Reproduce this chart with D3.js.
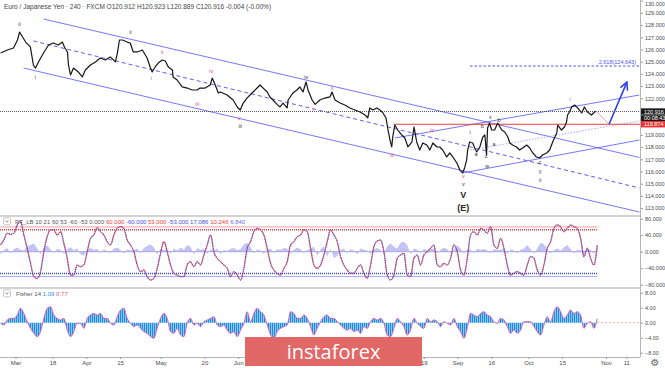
<!DOCTYPE html>
<html>
<head>
<meta charset="utf-8">
<script src="https://cdn.jsdelivr.net/npm/d3@7"></script>
<style>
body{margin:0;background:#fff}
svg{display:block;font-family:"Liberation Sans",Arial,sans-serif}
</style>
</head>
<body>
<div id="chart"></div>
<script>
// ---- data (time = trading days since 1 Mar 2019) ----
const priceT = [-4.4,-2.4,-0.6,0.6,1.2,2.1,3.0,4.4,5.3,5.9,6.8,8.3,9.8,11.2,12.7,13.9,14.5,15.4,15.7,16.3,17.2,18.6,19.8,20.7,22.2,23.7,25.1,26.6,28.1,29.6,30.2,30.8,31.7,33.1,34.0,34.9,36.1,37.6,39.0,39.9,40.5,41.4,42.3,43.5,44.4,45.3,46.5,46.7,47.9,49.4,50.9,52.4,53.8,54.7,56.2,57.7,58.3,59.2,60.1,60.7,62.7,64.5,65.7,66.6,67.5,68.6,69.5,70.4,71.6,72.5,73.4,74.6,75.4,76.3,77.5,78.4,79.3,80.5,80.8,81.4,82.2,83.4,84.3,85.2,86.1,86.7,87.9,88.8,90.2,91.7,93.2,93.8,94.7,96.2,97.6,99.1,100.6,102.1,103.6,104.4,105.0,105.9,107.1,108.0,108.9,109.8,110.4,111.0,111.5,111.8,112.4,113.3,114.5,115.4,116.3,117.5,118.1,118.9,119.8,120.7,121.9,122.8,123.7,124.9,125.7,126.6,127.8,128.7,129.6,130.8,131.7,132.5,133.1,133.7,134.0,134.6,135.5,136.1,136.7,137.6,138.5,139.1,139.6,139.9,140.5,141.1,142.0,142.9,144.1,145.0,145.9,146.5,147.3,148.5,149.4,150.3,151.5,152.4,153.3,154.4,155.3,156.2,157.4,158.3,159.2,160.4,160.7,161.8,162.7,163.3,163.6,164.2,164.8,165.7,166.6,167.8,168.6,169.5,170.7,171.6,172.2];
const priceV = [125.71,125.96,126.12,126.78,127.43,127.02,126.61,126.21,124.73,124.48,124.98,125.71,126.37,126.53,126.37,126.61,126.21,125.80,124.73,123.91,124.48,124.16,123.75,124.32,124.73,124.98,125.30,125.14,125.39,124.98,125.71,126.78,126.78,126.61,126.53,125.80,125.80,125.96,125.30,124.57,124.16,124.57,124.89,125.14,125.06,124.57,124.32,123.75,123.50,122.93,122.84,122.68,122.68,122.84,122.84,123.09,123.66,123.09,122.43,122.52,122.27,121.86,121.29,121.04,121.61,122.02,122.27,122.52,122.84,123.09,122.84,122.52,122.11,121.86,121.50,121.29,121.61,121.21,121.86,122.11,122.43,122.68,122.93,122.52,123.34,122.68,121.86,121.50,121.86,122.02,122.11,122.52,121.86,121.61,121.45,121.21,121.04,120.88,120.63,120.39,121.21,121.04,121.21,121.04,120.80,120.39,119.40,118.58,118.01,118.83,119.81,119.40,118.99,118.75,118.01,118.42,119.65,118.42,117.76,118.34,118.17,117.76,118.34,118.01,118.01,117.76,117.19,117.52,117.19,116.70,116.12,115.88,116.29,116.94,117.76,118.42,118.34,117.93,117.60,118.01,118.83,118.99,117.35,119.57,119.97,119.40,119.40,119.97,119.40,119.24,118.83,118.34,118.17,118.01,117.76,117.93,118.17,117.93,117.52,117.19,117.11,117.35,117.52,117.76,118.42,119.16,119.81,119.40,119.65,120.06,120.63,120.88,121.29,121.45,121.21,120.80,121.29,120.88,120.63,120.88,120.92];

// indicator samples, one every ~0.99 trading day starting at t = -4.44
const sampleT0 = -4.44, sampleStep = 0.988;
const oscV = [16.2,28.4,44.5,42.1,44.5,64.7,72.8,40.5,8.2,-28.2,
  -60.5,-64.6,-48.4,0,36.4,52.6,52.6,40.5,48.6,20.3,
  -16.1,-56.5,-56.5,-32.2,-36.3,-32.2,0,32.4,40.5,58.3,
  48.6,40.5,24.3,16.2,40.5,56.6,60.7,56.6,28.4,16.2,
  0,-32.2,-48.4,-44.4,-60.5,-68.6,-64.6,-40.3,-4.0,24.3,
  0,-32.2,-52.4,-56.5,-60.5,-60.5,-32.2,-24.2,-36.3,-24.2,
  -32.2,-8.0,16.2,40.5,0,-16.1,-24.2,-32.2,-40.3,-60.5,
  -48.4,-56.5,-68.6,-40.3,8.2,24.3,48.6,56.6,52.6,40.5,
  8.2,-28.2,-44.4,-52.4,-56.5,-40.3,-24.2,16.2,24.3,36.4,
  40.5,52.6,48.6,8.2,-32.2,-40.3,-32.2,-8.0,24.3,52.6,
  40.5,24.3,-12.0,-32.2,-44.4,-52.4,-52.4,-40.3,-32.2,-52.4,
  -64.6,-32.2,12.2,25.9,28.4,0,-56.5,-68.6,-56.5,-16.1,
  -8.0,-4.0,-56.5,-60.5,-16.1,-8.0,-32.2,-8.0,0,8.2,
  16.2,-32.2,-36.3,-28.2,-32.2,-16.1,16.2,0,-44.4,-56.5,
  -16.1,40.5,48.6,40.5,56.6,52.6,44.5,60.7,16.2,8.2,
  32.4,8.2,-32.2,-56.5,-52.4,-48.4,-52.4,-56.5,-32.2,-12.0,
  -16.1,-44.4,-56.5,-32.2,8.2,24.3,56.6,64.7,60.7,48.6,
  56.6,64.7,60.7,56.6,32.4,-12.0,8.2,-16.1,-32.2,16.2];
const histV = [-8,4,9,-4,6,10,5,3,12,16,
  20,8,-6,10,15,6,-3,7,4,-5,
  6,11,3,8,-6,-10,5,9,4,7,
  -3,6,2,-4,8,10,4,-5,6,3,
  5,8,-4,9,14,18,10,-6,7,4,
  6,-5,8,3,10,5,16,12,-7,9,
  4,7,-5,6,3,8,-6,5,2,7,
  9,4,6,18,22,10,-4,6,3,-5,
  5,8,-3,6,4,9,7,-4,5,10,
  6,-3,4,8,12,-10,6,14,-12,8,
  -16,-10,5,8,-4,6,3,-6,8,5,
  3,-5,6,9,4,-4,14,20,12,8,
  22,24,16,-6,8,5,-3,7,4,6,
  8,-4,5,10,6,-3,4,16,8,-5,
  6,5,-3,8,4,7,3,-4,6,5,
  4,8,-5,6,3,-4,5,7,16,6,
  -4,8,22,18,6,-5,4,8,3,10,
  16,6,-4,5,3,-6,8,4,-5,6];
const fisherV = [-0.17,-0.62,0.72,1.16,1.16,2.05,3.83,2.49,0.27,-1.51,
  -2.84,-3.73,-2.39,1.16,3.83,4.27,2.05,1.16,0.72,1.16,
  -1.95,-3.73,-2.39,-0.17,-0.17,-1.51,1.16,2.05,2.49,2.05,
  2.49,1.16,1.16,-0.17,-0.62,1.61,3.38,3.83,1.16,-0.17,
  -1.06,-0.62,-1.51,-2.39,-2.84,-3.73,-4.17,-1.51,1.16,2.49,
  1.16,-2.39,-2.84,-1.51,-3.28,-3.73,-0.17,1.16,-0.62,-0.17,
  -1.06,0.27,0.72,1.16,1.61,-0.62,-1.06,-0.62,-1.95,-2.84,
  -2.39,-3.73,-1.95,-0.17,2.94,0.27,2.49,3.83,2.94,2.05,
  -0.62,-3.28,-4.17,-2.39,-1.51,-1.06,-0.62,2.94,2.49,1.16,
  1.16,2.05,1.16,-1.06,-3.28,-1.51,0.27,1.61,2.05,1.16,
  1.16,0.27,-0.62,-1.51,-1.95,-1.51,-2.39,-1.95,-2.84,-1.06,
  -1.51,0.27,1.16,0.72,1.16,-0.17,-3.28,-3.73,-1.51,1.16,
  0.27,-1.06,-3.28,-1.95,1.16,-0.17,-1.06,-1.51,1.16,0.27,
  0.72,0.27,-1.06,0.27,-0.17,-0.62,1.16,-1.06,-2.39,-4.17,
  -1.51,2.49,2.05,1.61,2.49,2.94,2.05,1.61,0.27,-0.17,
  1.16,0.72,-1.06,-2.84,-1.95,-2.84,-1.95,0.27,0.27,0.27,
  -1.06,-2.39,-3.28,-0.62,1.61,0.27,2.94,4.27,2.94,1.16,
  2.05,3.38,2.49,2.94,2.05,-1.51,-0.17,0.27,-1.51,1.09];

const oscLevels = [60, 53, -53, -60];

// drawings on the price pane, [trading day, price]
const upperChannel = [[8.3, 128.50], [184.9, 117.15]];
const lowerChannel = [[2.4, 124.48], [184.9, 112.68]];
const midChannel = [[5.3, 126.70], [184.9, 114.65]];
const riseLow = [[132.5, 115.88], [184.9, 118.58]];
const riseHigh = [[112.5, 118.75], [184.9, 122.27]];
const riseDotted = [[134.7, 117.76], [184.9, 120.14]];
const projDown = [[172.2, 120.92], [175.9, 119.87]];
const projUp = [[175.9, 119.87], [181.2, 123.33]];
const redLevel = 119.874, redLevelStart = 112.2;
const fibLevel = 124.643, fibStart = 134.7;
const lastClose = 120.916;

const darkLabels = [[1.2,128.01,"ii"],[5.9,123.74,"i"],[34.1,127.35,"ii"],[66.6,119.65,"iii"],[86.2,123.74,"iv"],
  [132.7,114.89,"v"],[134.7,119.16,"i"],[136.5,117.43,"a"],[138.3,119.65,"b"],[139.5,117.19,"c"],
  [140.7,120.39,"x"],[141.8,118.25,"a"],[143.3,120.14,"b"],[139.8,116.37,"w"],
  [155.5,116.70,"c"],[155.5,115.96,"y"],[155.5,115.22,"ii"]];
const pinkLabels = [[40.3,123.58,"i"],[43.5,125.71,"ii"],[53.9,121.45,"iii"],[58.0,124.16,"iv"],[66.3,120.30,"v"],
  [88.2,121.04,"i"],[93.9,122.76,"ii"],[111.6,117.27,"iii"],[123.5,119.32,"iv"],[132.7,115.55,"v"]];
const redLabels = [[164.4,121.86,"i"]];
const bigLabels = [[132.7,113.99,"V"],[132.7,112.93,"(E)"]];

const tickDays = [0, 11, 21, 31, 43, 56, 66, 121, 131, 141, 152, 162, 175, 181];
const tickNames = ["Mar","18","Apr","15","May","20","Jun","19","Sep","16","Oct","15","Nov","11"];

// ---- layout ----
const W = 665, H = 368, AX = 640;
const text_color = "#4a4a4a";
const line_blue = "#5f5ff2";

const x = d3.scaleLinear().domain([0, 175]).range([15.5, 606]);
const yP = d3.scaleLinear().domain([113, 130]).range([208.1, 0.7]);
const yO = d3.scaleLinear().domain([-80, 80]).range([284.7, 218.7]);
const yF = d3.scaleLinear().domain([-8, 8]).range([352.7, 292.7]);

const sampleT = i => sampleT0 + i * sampleStep;

const svg = d3.select("#chart").append("svg")
    .attr("width", W).attr("height", H);

const defs = svg.append("defs");
defs.append("clipPath").attr("id", "cMain").append("rect").attr("x", 0).attr("y", 0).attr("width", AX).attr("height", 216);
defs.append("clipPath").attr("id", "cOsc").append("rect").attr("x", 0).attr("y", 217).attr("width", AX).attr("height", 71);
defs.append("clipPath").attr("id", "cFis").append("rect").attr("x", 0).attr("y", 289).attr("width", AX).attr("height", 68);
const pat = defs.append("pattern").attr("id", "stripes").attr("patternUnits", "userSpaceOnUse")
    .attr("width", 2).attr("height", 6);
pat.append("rect").attr("width", 2).attr("height", 6).attr("fill", "#8ec8f6");
pat.append("rect").attr("width", 1).attr("height", 6).attr("fill", "#1f8ae6");
defs.append("marker").attr("id", "arrow").attr("viewBox", "0 0 10 10").attr("refX", 9).attr("refY", 5)
    .attr("markerWidth", 6).attr("markerHeight", 6).attr("orient", "auto")
    .append("path").attr("d", "M1,1 L9,5 L1,9").attr("fill", "none").attr("stroke", "#2d3df0").attr("stroke-width", 1.6);

svg.append("rect").attr("width", W).attr("height", H).attr("fill", "#fff");

// ---- price pane ----
const main = svg.append("g").attr("clip-path", "url(#cMain)");
const seg = d3.line().x(d => x(d[0])).y(d => yP(d[1]));

[upperChannel, lowerChannel, riseLow, riseHigh].forEach(l => {
    main.append("path").attr("d", seg(l)).attr("fill", "none")
        .attr("stroke", line_blue).attr("stroke-width", 1).attr("opacity", 0.85);
});
main.append("path").attr("d", seg(midChannel)).attr("fill", "none")
    .attr("stroke", line_blue).attr("stroke-width", 1).attr("stroke-dasharray", "4,3");
main.append("path").attr("d", seg(riseDotted)).attr("fill", "none")
    .attr("stroke", "#a9a9f2").attr("stroke-width", 1).attr("stroke-dasharray", "1.5,1.5");

main.append("line").attr("x1", 0).attr("x2", AX).attr("y1", yP(lastClose)).attr("y2", yP(lastClose))
    .attr("stroke", "#555").attr("stroke-width", 1).attr("stroke-dasharray", "1,1");
main.append("line").attr("x1", x(redLevelStart)).attr("x2", AX).attr("y1", yP(redLevel)).attr("y2", yP(redLevel))
    .attr("stroke", "#f03c3c").attr("stroke-width", 1.2);
main.append("line").attr("x1", x(fibStart)).attr("x2", AX).attr("y1", yP(fibLevel)).attr("y2", yP(fibLevel))
    .attr("stroke", "#4a55f0").attr("stroke-width", 1).attr("stroke-dasharray", "2.5,2");
main.append("text").attr("x", 636).attr("y", yP(fibLevel) - 2).attr("text-anchor", "end")
    .attr("font-size", "5.5px").attr("fill", "#4a55f0").text("2.618(" + fibLevel.toFixed(3) + ")");

const priceData = priceT.map((t, i) => [t, priceV[i]]);
main.append("path").attr("d", seg(priceData)).attr("fill", "none")
    .attr("stroke", "#161616").attr("stroke-width", 1.2).attr("stroke-linejoin", "round");

main.append("path").attr("d", seg(projDown)).attr("fill", "none").attr("stroke", "#f4a3a3").attr("stroke-width", 1);
main.append("path").attr("d", seg(projUp)).attr("fill", "none").attr("stroke", "#2d3df0")
    .attr("stroke-width", 1.6).attr("marker-end", "url(#arrow)");

function addLabels(list, color, size, weight) {
    main.selectAll(null).data(list).enter().append("text")
        .attr("x", d => x(d[0])).attr("y", d => yP(d[1]))
        .attr("text-anchor", "middle").attr("dominant-baseline", "middle")
        .attr("font-size", size).attr("font-weight", weight).attr("fill", color)
        .text(d => d[2]);
}
addLabels(darkLabels, "#333", "5.5px", "normal");
addLabels(pinkLabels, "#ec407a", "5.5px", "normal");
addLabels(redLabels, "#f03c3c", "5.5px", "normal");
addLabels(bigLabels, "#2a2a2a", "9px", "bold");

svg.append("text").attr("x", 4).attr("y", 9).attr("font-size", "6.5px").attr("fill", "#444")
    .text("Euro / Japanese Yen · 240 · FXCM  O120.912 H120.923 L120.889 C120.916 -0.004 (-0.00%)");

// ---- oscillator pane ----
const osc = svg.append("g").attr("clip-path", "url(#cOsc)");
const oscData = oscV.map((v, i) => [sampleT(i), v]);
const lastT = sampleT(oscV.length - 1);
const levelStyle = [["#f6a0a0", "none", 1], ["#ef3b3b", "1,1", 1.5], ["#3446ee", "1,1", 1.6], ["#a4aaf5", "none", 1]];
oscLevels.forEach((lv, i) => {
    osc.append("line").attr("x1", 0).attr("x2", x(lastT)).attr("y1", yO(lv)).attr("y2", yO(lv))
        .attr("stroke", levelStyle[i][0]).attr("stroke-dasharray", levelStyle[i][1]).attr("stroke-width", levelStyle[i][2]);
});
osc.append("path")
    .attr("d", d3.area().x((d, i) => x(sampleT(i))).y0(yO(0)).y1(d => yO(d))(histV))
    .attr("fill", "#b9b9f4").attr("opacity", 0.85);
osc.append("line").attr("x1", 0).attr("x2", x(lastT)).attr("y1", yO(0)).attr("y2", yO(0))
    .attr("stroke", "#a6a6dc").attr("stroke-width", 1);
const oscLine = d3.line().x(d => x(d[0])).y(d => yO(d[1])).curve(d3.curveMonotoneX);
osc.append("path").attr("d", oscLine(oscData)).attr("fill", "none").attr("stroke", "#4a58ee").attr("stroke-width", 0.9);
osc.append("path").attr("d", oscLine(oscData)).attr("fill", "none").attr("stroke", "#f03434")
    .attr("stroke-width", 1.4).attr("stroke-dasharray", "0.9,1.3");

// ---- fisher pane ----
const fis = svg.append("g").attr("clip-path", "url(#cFis)");
const fisData = fisherV.map((v, i) => [sampleT(i), v]);
fis.append("path")
    .attr("d", d3.area().x(d => x(d[0])).y0(yF(0)).y1(d => yF(d[1])).curve(d3.curveMonotoneX)(fisData))
    .attr("fill", "url(#stripes)");
fis.append("path")
    .attr("d", d3.line().x(d => x(d[0])).y(d => yF(d[1])).curve(d3.curveMonotoneX)(fisData))
    .attr("fill", "none").attr("stroke", "#e8559a").attr("stroke-width", 0.9);
fis.append("line").attr("x1", x(lastT)).attr("x2", AX).attr("y1", yF(0)).attr("y2", yF(0))
    .attr("stroke", "#f7b1a8").attr("stroke-dasharray", "2,2");

// ---- separators and axes ----
[216, 288].forEach(yy => svg.append("line").attr("x1", 0).attr("x2", AX).attr("y1", yy).attr("y2", yy)
    .attr("stroke", "#c4c4c4").attr("stroke-width", 1.5));

function rightAxis(scale, values, fmt) {
    const g = svg.append("g").attr("transform", `translate(${AX},0)`)
        .call(d3.axisRight(scale).tickValues(values).tickFormat(fmt).tickSize(3).tickPadding(2));
    g.select(".domain").remove();
    g.selectAll("line").attr("stroke", "#999");
    g.selectAll("text").attr("font-size", "5.5px").attr("fill", text_color).attr("font-family", "Liberation Sans, Arial");
    return g;
}
const pAxis = rightAxis(yP, d3.range(113, 131), d3.format(".3f"));
// keep the topmost price label inside the picture
pAxis.selectAll(".tick").filter(d => d === 130).select("text").attr("dy", "0.9em");
rightAxis(yO, [80, 40, 0, -40, -80], d3.format(".3f"));
rightAxis(yF, [8, 4, 0, -4, -8], d3.format(".2f"));
svg.append("line").attr("x1", AX + 0.5).attr("x2", AX + 0.5).attr("y1", 0).attr("y2", 357)
    .attr("stroke", "#b5b5b5").attr("stroke-width", 1);

const xa = svg.append("g").attr("transform", "translate(0,357)")
    .call(d3.axisBottom(x).tickValues(tickDays).tickFormat((d, i) => tickNames[i]).tickSize(2).tickPadding(2));
xa.select(".domain").attr("d", `M0,0.5H${AX}`).attr("stroke", "#b5b5b5");
xa.selectAll("line").attr("stroke", "#999");
xa.selectAll("text").attr("font-size", "6px").attr("fill", text_color).attr("font-family", "Liberation Sans, Arial");

// price labels on the axis
function axisTag(y, label, bg) {
    svg.append("rect").attr("x", AX + 1).attr("y", y - 3.2).attr("width", W - AX - 1).attr("height", 6.4).attr("fill", bg);
    svg.append("text").attr("x", AX + 4).attr("y", y + 2).attr("font-size", "5.5px").attr("fill", "#fff").text(label);
}
axisTag(yP(lastClose), lastClose.toFixed(3), "#1c1c1c");
axisTag(yP(lastClose) + 6.9, "00:08:43", "#1c1c1c");
axisTag(yP(redLevel), redLevel.toFixed(3), "#f23232");

// pane headers
function headerButton(y) {
    svg.append("rect").attr("x", 3.5).attr("y", y).attr("width", 7).attr("height", 7)
        .attr("fill", "#fff").attr("stroke", "#c8c8c8").attr("rx", 1);
    svg.append("path").attr("d", `M5.5,${y + 2.8} L7,${y + 4.3} L8.5,${y + 2.8}`).attr("fill", "none").attr("stroke", "#666").attr("stroke-width", 0.8);
}
headerButton(217.8);
const h1 = svg.append("text").attr("x", 15).attr("y", 223.5).attr("font-size", "6px").attr("fill", "#555");
[["RT_LB 10 21 60 53 -60 -53 ", "#555"], ["0.000 ", "#555"], ["60.000 ", "#f03c3c"], ["-60.000 ", "#3d4ef0"],
 ["53.000 ", "#f03c3c"], ["-53.000 ", "#3d4ef0"], ["17.086 ", "#3d4ef0"], ["10.246 ", "#f03c3c"], ["6.840", "#6d6df0"]]
    .forEach(p => h1.append("tspan").attr("fill", p[1]).text(p[0]));
headerButton(289.8);
const h2 = svg.append("text").attr("x", 16).attr("y", 295.5).attr("font-size", "6px").attr("fill", "#555");
h2.append("tspan").text("Fisher 14  ");
h2.append("tspan").attr("fill", "#2196f3").text("1.09  ");
h2.append("tspan").attr("fill", "#f0508a").text("0.77");

// gear
svg.append("text").attr("x", 655).attr("y", 365.5).attr("text-anchor", "middle").attr("font-size", "10px")
    .attr("font-family", "DejaVu Sans").attr("fill", "#666").text("⚙");

// watermark
svg.append("rect").attr("x", 245).attr("y", 337).attr("width", 177).attr("height", 29).attr("fill", "#e26868");
svg.append("text").attr("x", 333.5).attr("y", 359).attr("text-anchor", "middle")
    .attr("font-family", "Open Sans, Lato, sans-serif").attr("font-size", "20px").attr("fill", "#fff").text("instaforex");
</script>
</body>
</html>
